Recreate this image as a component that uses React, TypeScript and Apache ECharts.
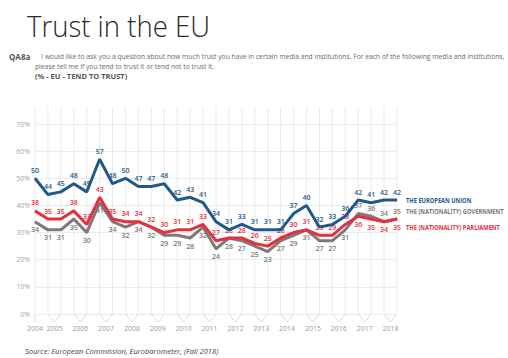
import React, { useEffect, useRef } from "react";
import * as echarts from "echarts";

const years = ["2004","2005","2006","2007","2008","2009","2010","2011","2012","2013","2014","2015","2016","2017","2018"];
const euTrust = [50,44,45,48,45,57,48,50,47,47,48,42,43,41,34,31,33,31,31,31,37,40,32,33,36,42,41,42,42];
const govTrust = [34,31,31,35,30,41,34,32,34,32,29,29,28,32,24,28,27,25,23,27,29,31,27,27,31,37,36,34,35];
const parlTrust = [38,35,35,38,33,43,35,34,34,32,30,31,31,33,27,28,28,26,25,28,30,31,29,29,33,36,35,34,35];
const seriesNames = ["THE EUROPEAN UNION", "THE (NATIONALITY) GOVERNMENT", "THE (NATIONALITY) PARLIAMENT"];

const BLUE = "#1f5a8a";
const GREY = "#7f7878";
const RED = "#e2323f";
const FONT = "'Open Sans', sans-serif";

// survey index of each year label: 2004 has one wave, later years two
const yearPos = years.map((_, k) => (k === 0 ? 1 : 2 * k + 0.5));
const flipFrom = 25; // from here on, the parliament line runs below the government line

export default function App() {
  const ref = useRef<HTMLDivElement>(null);
  useEffect(() => {
    if (!ref.current) return;
    const chart = echarts.init(ref.current, null, { renderer: "svg" });
    const n = euTrust.length;
    const idx = euTrust.map((_, i) => [i + 1, 0]);
    const pairs = years.map((_, k) => [k === 0 ? 1 : 2 * k, k === 0 ? 1 : 2 * k + 1]);
    const colors = [BLUE, GREY, RED];
    const endOffsets = [0, -7.5, 8.5];
    const lastValues = [euTrust, govTrust, parlTrust].map((arr, k) => [n, arr[n - 1], k]);

    const dataLabel = (color: string) => ({
      show: true,
      color,
      fontSize: 7,
      fontWeight: 600,
      fontFamily: FONT,
      distance: 4,
    });

    chart.setOption({
      animation: false,
      backgroundColor: "#ffffff",
      textStyle: { fontFamily: FONT },
      grid: { left: 35, right: 111, top: 124, bottom: 44 },
      xAxis: {
        type: "value",
        min: 1,
        max: n,
        interval: 1,
        axisLine: { show: false },
        axisTick: { show: false },
        splitLine: { show: false },
        axisLabel: {
          customValues: yearPos,
          formatter: (v: number) => {
            const k = yearPos.indexOf(v);
            return k >= 0 ? years[k] : "";
          },
          color: "#9a9a9a",
          fontSize: 7,
          margin: 11,
          fontFamily: FONT,
        },
      },
      yAxis: {
        type: "value",
        min: 0,
        max: 70,
        interval: 10,
        axisLine: { show: false },
        axisTick: { show: false },
        splitLine: { lineStyle: { color: "#ebebeb", width: 1 } },
        axisLabel: { formatter: "{value}%", color: "#a8a8a8", fontSize: 7, margin: 5, fontFamily: FONT },
      },
      graphic: [
        {
          type: "text",
          x: 27,
          y: 11,
          scaleX: 0.95,
          style: { text: "Trust in the EU", font: `300 29px ${FONT}`, fill: "#2a2a2a" },
        },
        {
          type: "text",
          x: 9,
          y: 52,
          style: { text: "QA8a", font: `bold 8px ${FONT}`, fill: "#555" },
        },
        {
          type: "text",
          x: 41,
          y: 52,
          scaleX: 0.9,
          style: {
            text: "I would like to ask you a question about how much trust you have in certain media and institutions. For each of the following media and institutions,",
            font: `7.5px ${FONT}`,
            fill: "#6a6a6a",
          },
        },
        {
          type: "text",
          x: 35,
          y: 62,
          scaleX: 0.9,
          style: {
            text: "please tell me if you tend to trust it or tend not to trust it.",
            font: `7.5px ${FONT}`,
            fill: "#6a6a6a",
          },
        },
        {
          type: "text",
          x: 35,
          y: 72,
          style: { text: "(% - EU - TEND TO TRUST)", font: `bold 7.5px ${FONT}`, fill: "#555" },
        },
        {
          type: "text",
          x: 25,
          y: 347,
          style: {
            text: "Source: European Commission, Eurobarometer, (Fall 2018)",
            font: `italic 7.5px ${FONT}`,
            fill: "#444",
          },
        },
      ],
      series: [
        {
          type: "custom",
          name: "gridV",
          silent: true,
          clip: false,
          z: 0,
          data: idx,
          encode: { x: 0, y: 1 },
          renderItem: (params: any, api: any) => {
            const i = api.value(0);
            const p0 = api.coord([i, 0]);
            const p1 = api.coord([i, 70]);
            return {
              type: "line",
              shape: { x1: p0[0], y1: p0[1], x2: p0[0], y2: p1[1] - 17 },
              style: { stroke: "#ebebeb", lineWidth: 1 },
            };
          },
        },
        {
          type: "custom",
          name: "yearBraces",
          silent: true,
          clip: false,
          z: 0,
          data: pairs,
          encode: { x: 0, y: 1 },
          renderItem: (params: any, api: any) => {
            const a = api.value(0);
            const b = api.value(1);
            const pa = api.coord([a, 0]);
            const pb = api.coord([b, 0]);
            const mid = (pa[0] + pb[0]) / 2;
            if (a === b) {
              return {
                type: "line",
                shape: { x1: pa[0], y1: pa[1], x2: pa[0], y2: pa[1] + 8 },
                style: { stroke: "#dcdcdc", lineWidth: 1 },
              };
            }
            return {
              type: "polyline",
              shape: { points: [[pa[0], pa[1]], [mid, pa[1] + 8], [pb[0], pb[1]]] },
              style: { stroke: "#dcdcdc", lineWidth: 1, fill: "none" },
            };
          },
        },
        {
          type: "custom",
          name: "endLabels",
          silent: true,
          clip: false,
          z: 6,
          data: lastValues,
          encode: { x: 0, y: 1 },
          renderItem: (params: any, api: any) => {
            const k = api.value(2);
            const p = api.coord([api.value(0), api.value(1)]);
            return {
              type: "text",
              x: p[0] + 9,
              y: p[1] + endOffsets[k],
              scaleX: 0.82,
              style: {
                text: seriesNames[k],
                fill: colors[k],
                font: `bold 7px ${FONT}`,
                verticalAlign: "middle",
                align: "left",
              },
            };
          },
        },
        {
          type: "line",
          name: seriesNames[1],
          data: govTrust.map((v, i) => ({
            value: [i + 1, v],
            label: { position: i >= flipFrom ? "top" : "bottom" },
          })),
          symbol: "circle",
          symbolSize: 1,
          itemStyle: { color: GREY },
          lineStyle: { color: GREY, width: 3 },
          z: 3,
          label: dataLabel(GREY),
        },
        {
          type: "line",
          name: seriesNames[2],
          data: parlTrust.map((v, i) => ({
            value: [i + 1, v],
            label: { position: i >= flipFrom ? "bottom" : "top" },
          })),
          symbol: "circle",
          symbolSize: 1,
          itemStyle: { color: RED },
          lineStyle: { color: RED, width: 3 },
          z: 4,
          label: dataLabel(RED),
        },
        {
          type: "line",
          name: seriesNames[0],
          data: euTrust.map((v, i) => [i + 1, v]),
          symbol: "circle",
          symbolSize: 1,
          itemStyle: { color: BLUE },
          lineStyle: { color: BLUE, width: 3 },
          z: 5,
          label: { ...dataLabel(BLUE), position: "top" },
        },
      ],
    });
    return () => chart.dispose();
  }, []);
  return (
    <div
      ref={ref}
      style={{ position: "fixed", left: 0, top: 0, width: 508, height: 358, background: "#fff" }}
    />
  );
}
